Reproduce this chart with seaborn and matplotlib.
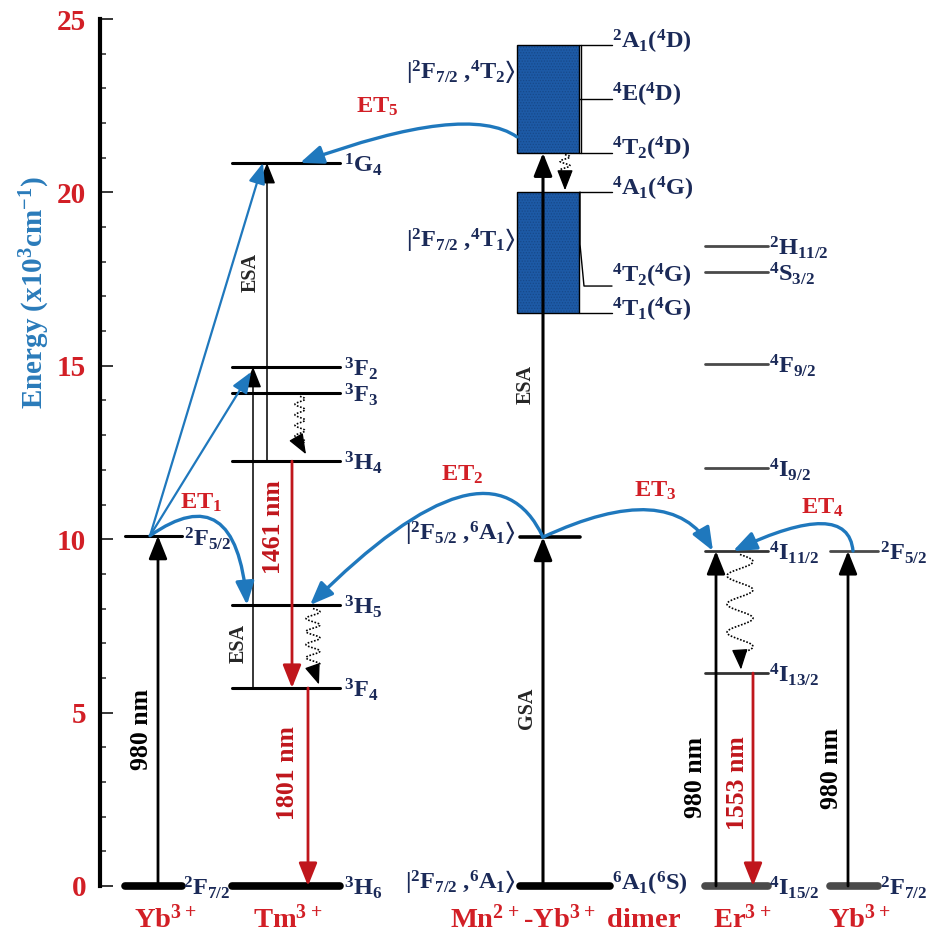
import numpy as np
import pandas as pd
import matplotlib
matplotlib.use("Agg")
import matplotlib.pyplot as plt
import seaborn as sns
from matplotlib.patches import Rectangle
from matplotlib.ticker import MultipleLocator

# ---------------- data (energies in 10^3 cm^-1) ----------------
yb_levels = [0.0, 10.1]
yb_labels = [r"$^{2}$F$_{7/2}$", r"$^{2}$F$_{5/2}$"]

tm_levels = [0.0, 5.71, 8.1, 12.25, 14.22, 14.97, 20.85]
tm_labels = [r"$^{3}$H$_{6}$", r"$^{3}$F$_{4}$", r"$^{3}$H$_{5}$", r"$^{3}$H$_{4}$",
             r"$^{3}$F$_{3}$", r"$^{3}$F$_{2}$", r"$^{1}$G$_{4}$"]

mn_levels = [0.0, 10.06]
mn_labels = [r"$^{6}$A$_{1}$($^{6}$S)", ""]
mn_kets = [r"|$^{2}$F$_{7/2}$ ,$^{6}$A$_{1}\rangle$", r"|$^{2}$F$_{5/2}$ ,$^{6}$A$_{1}\rangle$",
           r"|$^{2}$F$_{7/2}$ ,$^{4}$T$_{1}\rangle$", r"|$^{2}$F$_{7/2}$ ,$^{4}$T$_{2}\rangle$"]
mn_ket_energy = [0.0, 10.06, 18.5, 23.35]
mn_band_low = [16.52, 20.01]
mn_band_high = [21.14, 24.25]
mn_band_states = [16.52, 17.3, 20.01, 21.14, 22.7, 24.25]
mn_band_labels = [r"$^{4}$T$_{1}$($^{4}$G)", r"$^{4}$T$_{2}$($^{4}$G)", r"$^{4}$A$_{1}$($^{4}$G)",
                  r"$^{4}$T$_{2}$($^{4}$D)", r"$^{4}$E($^{4}$D)", r"$^{2}$A$_{1}$($^{4}$D)"]

er_levels = [0.0, 6.14, 9.66, 12.05, 15.05, 17.7, 18.45]
er_labels = [r"$^{4}$I$_{15/2}$", r"$^{4}$I$_{13/2}$", r"$^{4}$I$_{11/2}$", r"$^{4}$I$_{9/2}$",
             r"$^{4}$F$_{9/2}$", r"$^{4}$S$_{3/2}$", r"$^{2}$H$_{11/2}$"]

yb2_levels = [0.0, 9.66]
yb2_labels = [r"$^{2}$F$_{7/2}$", r"$^{2}$F$_{5/2}$"]

species = [r"Yb$^{3+}$", r"Tm$^{3+}$", r"Mn$^{2+}$-Yb$^{3+}$ dimer", r"Er$^{3+}$", r"Yb$^{3+}$"]
et_labels = [r"ET$_{1}$", r"ET$_{2}$", r"ET$_{3}$", r"ET$_{4}$", r"ET$_{5}$"]
wavelengths = ["980 nm", "1461 nm", "1801 nm", "1553 nm", "980 nm"]
yticks = [0, 5, 10, 15, 20, 25]

# ---------------- style ----------------
sns.set_theme(style="ticks")
plt.rcParams["font.family"] = ["Liberation Serif", "DejaVu Serif"]
plt.rcParams["font.weight"] = "bold"
plt.rcParams["mathtext.fontset"] = "custom"
plt.rcParams["mathtext.rm"] = "Liberation Serif:bold"
plt.rcParams["mathtext.default"] = "regular"
plt.rcParams["hatch.linewidth"] = 0.6

RED = "#d21f26"
ARED = "#c0161c"
BLUE = "#1f78bd"
NAVY = "#1b2a58"
GRAY = "#4a4a4a"
BOX = "#1d5aa6"
YLAB = "#2a7bba"

W, H = 931, 939
fig = plt.figure(figsize=(W / 100, H / 100), dpi=100)
ax = fig.add_axes([100 / W, 53 / H, 831 / W, 867 / H])
ax.set_xlim(100, 931)
ax.set_ylim(0, 25)

# column layout (x in pixel-like units)
col = {"yb": (125, 182), "tm": (232, 340), "mn0": (520, 610), "mn1": (520, 580),
       "er": (705, 768), "yb2": (830, 878)}


def levels_df(x0x1, energies, start=0):
    rows = []
    for i, e in enumerate(energies):
        rows.append((x0x1[0], e, start + i))
        rows.append((x0x1[1], e, start + i))
    return pd.DataFrame(rows, columns=["x", "E", "seg"])


def draw_levels(df, color, lw):
    sns.lineplot(data=df, x="x", y="E", units="seg", estimator=None, color=color,
                 lw=lw, ax=ax, clip_on=False, solid_capstyle="round", legend=False)


# ground levels (thick)
draw_levels(levels_df(col["yb"], yb_levels[:1], 0), "black", 5.5)
draw_levels(levels_df(col["tm"], tm_levels[:1], 10), "black", 5.5)
draw_levels(levels_df(col["mn0"], mn_levels[:1], 20), "black", 5.5)
draw_levels(levels_df(col["er"], er_levels[:1], 30), GRAY, 5.5)
draw_levels(levels_df(col["yb2"], yb2_levels[:1], 40), GRAY, 5.5)
# excited levels
draw_levels(levels_df(col["yb"], yb_levels[1:], 50), "black", 2.2)
draw_levels(levels_df(col["tm"], tm_levels[1:], 60), "black", 2.2)
draw_levels(levels_df(col["mn1"], mn_levels[1:], 70), "black", 2.6)
draw_levels(levels_df(col["er"], er_levels[1:3], 80), "#333333", 2.0)
draw_levels(levels_df(col["er"], er_levels[3:], 90), GRAY, 2.0)
draw_levels(levels_df(col["yb2"], yb2_levels[1:], 100), GRAY, 2.0)

# Mn bands (dotted texture)
bx0, bx1 = 517, 579
for lo, hi in [mn_band_low, mn_band_high]:
    ax.add_patch(Rectangle((bx0, lo), bx1 - bx0, hi - lo, facecolor=BOX,
                           edgecolor="#17498a", hatch="......", lw=0, zorder=2))
    ax.add_patch(Rectangle((bx0, lo), bx1 - bx0, hi - lo, facecolor="none",
                           edgecolor="black", lw=1.0, zorder=2))

# brackets to band labels
lk = dict(color="black", lw=1.0)
for e in [mn_band_states[0], mn_band_states[2], mn_band_states[3], mn_band_states[4], mn_band_states[5]]:
    ax.plot([bx1, 612], [e, e], **lk)
ax.plot([bx1 + 2, bx1 + 2], [mn_band_states[3], mn_band_states[5]], **lk)
ax.plot([bx1 + 1, bx1 + 1, bx1 + 5, 612], [mn_band_states[2], 18.5, mn_band_states[1], mn_band_states[1]], **lk)

# ---------------- arrows ----------------
def arrow(x0, y0, x1, y1, color, lw, hl=0.7, hw=0.28, ms=20, cs="arc3,rad=0", z=3):
    ax.annotate("", xy=(x1, y1), xytext=(x0, y0),
                arrowprops=dict(arrowstyle=f"-|>,head_length={hl},head_width={hw}",
                                color=color, lw=lw, shrinkA=0, shrinkB=0,
                                mutation_scale=ms, connectionstyle=cs), zorder=z)

# pumping 980 nm
arrow(158, yb_levels[0], 158, yb_levels[1], "black", 2.0)
arrow(716, er_levels[0], 716, er_levels[2], "black", 2.0)
arrow(848, yb2_levels[0], 848, yb2_levels[1], "black", 2.0)
# Mn GSA / ESA
arrow(543, mn_levels[0], 543, mn_levels[1], "black", 2.2)
arrow(543, mn_levels[1], 543, mn_band_high[0], "black", 2.2)
# Tm ESA
arrow(267, tm_levels[3], 267, tm_levels[6], "black", 1.1, hl=0.75, hw=0.3, ms=17)
arrow(253, tm_levels[1], 253, tm_levels[5], "black", 1.1, hl=0.75, hw=0.3, ms=17)
# emissions
arrow(292, tm_levels[3], 292, tm_levels[1], ARED, 2.0)
arrow(308, tm_levels[1], 308, tm_levels[0], ARED, 2.0)
arrow(753, er_levels[1], 753, er_levels[0], ARED, 2.0)
# Yb -> Tm straight transfers
arrow(150, yb_levels[1], 263, tm_levels[6], BLUE, 1.6, ms=18)
arrow(150, yb_levels[1], 251, tm_levels[5] - 0.15, BLUE, 1.6, ms=18)
# curved transfers
arrow(150, yb_levels[1], 247, tm_levels[2], BLUE, 2.4, cs="angle3,angleA=35,angleB=95")
arrow(543, mn_levels[1], 310, tm_levels[2], BLUE, 2.4, cs="angle3,angleA=115,angleB=45")
arrow(543, mn_levels[1], 713, er_levels[2], BLUE, 2.4, cs="angle3,angleA=25,angleB=120")
arrow(853, yb2_levels[1], 733, er_levels[2], BLUE, 2.4, cs="angle3,angleA=95,angleB=25")
arrow(517, 21.6, 300, tm_levels[6], BLUE, 2.4, cs="angle3,angleA=145,angleB=20")


# non-radiative wavy decays
def wavy(x, ytop, ybot, amp, periods, xend, yend):
    t = np.linspace(0, 1, 300)
    yy = ytop + (ybot - ytop) * t
    xx = x + amp * np.sin(2 * np.pi * periods * t)
    ax.plot(xx, yy, color="black", lw=1.2, ls=(0, (1, 1)))
    arrow(xx[-1], ybot, xend, yend, "black", 1.0, hl=0.9, hw=0.35, ms=14)


wavy(300, tm_levels[4] - 0.1, 12.75, 5, 4.5, 306, tm_levels[3] + 0.2)
wavy(313, tm_levels[2] - 0.1, 6.3, 7, 4.5, 319, tm_levels[1] + 0.1)
wavy(740, er_levels[2] - 0.1, 6.7, 13, 3.5, 741, er_levels[1] + 0.1)
wavy(565, mn_band_high[0] - 0.05, 20.45, 5, 2.5, 565, mn_band_low[1] + 0.05)

# ---------------- text ----------------
LFS = 17.5
def lab(x, y, s, fs=LFS, color=NAVY, ha="left", **kw):
    ax.text(x, y, s, fontsize=fs, color=color, ha=ha, va="center", fontweight="bold",
            clip_on=False, **kw)

lab(184, yb_levels[1] - 0.1, yb_labels[1])
lab(183, yb_levels[0] - 0.05, yb_labels[0])
for e, s in zip(tm_levels, tm_labels):
    lab(344, e - 0.05, s)
for e, s in zip(er_levels, er_labels):
    lab(769, e - 0.05, s)
for e, s in zip(yb2_levels, yb2_labels):
    lab(880, e - 0.05, s)
lab(612, mn_levels[0] + 0.05, mn_labels[0])
for e, s in zip(mn_band_states, mn_band_labels):
    lab(612, e + (0.3 if s.find("T$_{2}$($^{4}$G") > 0 else 0.1), s)
for e, s in zip(mn_ket_energy, mn_kets):
    lab(516, e + 0.1, s, ha="right")

# transition labels
ET_FS = 17.5
ax.text(201, 11.04, et_labels[0], color=RED, fontsize=ET_FS, ha="center", va="center")
ax.text(462, 11.85, et_labels[1], color=RED, fontsize=ET_FS, ha="center", va="center")
ax.text(655, 11.39, et_labels[2], color=RED, fontsize=ET_FS, ha="center", va="center")
ax.text(822, 10.9, et_labels[3], color=RED, fontsize=ET_FS, ha="center", va="center")
ax.text(377, 22.46, et_labels[4], color=RED, fontsize=ET_FS, ha="center", va="center")

WFS = 18.5
ax.text(142, 4.5, wavelengths[0], rotation=90, fontsize=WFS, color="black", ha="center", va="center")
ax.text(273, 10.35, wavelengths[1], rotation=90, fontsize=WFS, color=ARED, ha="center", va="center")
ax.text(288, 3.26, wavelengths[2], rotation=90, fontsize=WFS, color=ARED, ha="center", va="center")
ax.text(696, 3.14, wavelengths[4], rotation=90, fontsize=WFS, color="black", ha="center", va="center")
ax.text(737, 2.97, wavelengths[3], rotation=90, fontsize=WFS, color=ARED, ha="center", va="center")
ax.text(831, 3.4, wavelengths[4], rotation=90, fontsize=WFS, color="black", ha="center", va="center")

SFS = 14.5
ax.text(251, 17.68, "ESA", rotation=90, fontsize=SFS, ha="center", va="center")
ax.text(239, 7.0, "ESA", rotation=90, fontsize=SFS, ha="center", va="center")
ax.text(526, 14.45, "ESA", rotation=90, fontsize=SFS, ha="center", va="center")
ax.text(527, 5.13, "GSA", rotation=90, fontsize=SFS, ha="center", va="center")

# species labels
for xc, s in zip([166, 288, 566, 742, 860], species):
    ax.text(xc, -0.97, s, color=RED, fontsize=20.5, ha="center", va="center", clip_on=False)

# ---------------- axes ----------------
ax.set_yticks(yticks)
ax.yaxis.set_minor_locator(MultipleLocator(1))
ax.tick_params(axis="y", which="major", direction="in", length=9, width=1.3,
               labelsize=21, labelcolor=RED, pad=10)
ax.tick_params(axis="y", which="minor", direction="in", length=4.5, width=1.1)
for t in ax.get_yticklabels():
    t.set_fontweight("bold")
ax.set_xticks([])
ax.set_xlabel("")
ax.set_ylabel("")
for s in ["top", "right", "bottom"]:
    ax.spines[s].set_visible(False)
ax.spines["left"].set_linewidth(3.0)
ax.spines["left"].set_color("black")

fig.text(35 / W, 1 - 293 / H, r"Energy (x10$^{3}$cm$^{-1}$)", rotation=90, color=YLAB,
         fontsize=21, fontweight="bold", ha="center", va="center")

fig.savefig("out.png", dpi=100, facecolor="white")
